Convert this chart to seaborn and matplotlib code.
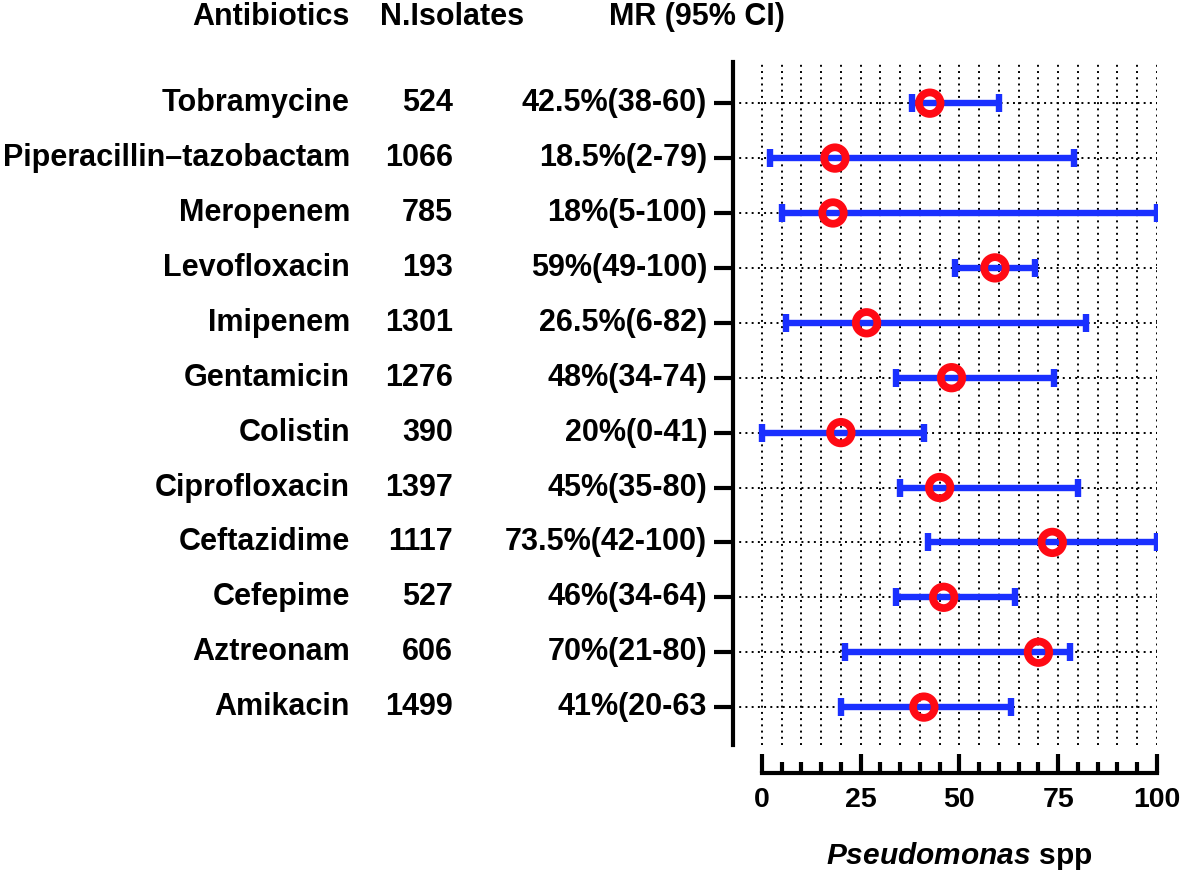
import numpy as np
import matplotlib
matplotlib.use("Agg")
import matplotlib.pyplot as plt
import matplotlib.transforms as mtransforms
import seaborn as sns

# === DATA ===
antibiotics = ["Tobramycine", "Piperacillin\u2013tazobactam", "Meropenem", "Levofloxacin",
               "Imipenem", "Gentamicin", "Colistin", "Ciprofloxacin", "Ceftazidime",
               "Cefepime", "Aztreonam", "Amikacin"]
n_isolates = ["524", "1066", "785", "193", "1301", "1276", "390", "1397", "1117", "527", "606", "1499"]
mr_labels = ["42.5%(38-60)", "18.5%(2-79)", "18%(5-100)", "59%(49-100)", "26.5%(6-82)",
             "48%(34-74)", "20%(0-41)", "45%(35-80)", "73.5%(42-100)", "46%(34-64)",
             "70%(21-80)", "41%(20-63"]
mr = np.array([42.5, 18.5, 18, 59, 26.5, 48, 20, 45, 73.5, 46, 70, 41])
ci_low = np.array([38, 2, 5, 49, 6, 34, 0, 35, 42, 34, 21, 20])
ci_high = np.array([60, 79, 100, 69, 82, 74, 41, 80, 100, 64, 78, 63])
xticks = [0, 25, 50, 75, 100]
xminor = list(range(0, 101, 5))

# === STYLE ===
sns.set_style("white")
plt.rcParams['font.family'] = ['Liberation Sans', 'DejaVu Sans']
plt.rcParams['font.weight'] = 'bold'
plt.rcParams['text.color'] = 'black'
plt.rcParams['xtick.color'] = 'black'
plt.rcParams['ytick.color'] = 'black'
plt.rcParams['axes.labelcolor'] = 'black'
plt.rcParams['axes.edgecolor'] = 'black'
plt.rcParams['mathtext.fontset'] = 'custom'
plt.rcParams['mathtext.it'] = 'Liberation Sans:italic:bold'

W, H = 1181, 872
fig = plt.figure(figsize=(W / 100, H / 100), dpi=100)
ax = fig.add_axes([733 / W, 1 - 745 / H, (1157 - 733) / W, (745 - 62) / H])

ypos = np.arange(len(antibiotics))[::-1]
red = "#ff0a14"
blue = "#1a30ff"

# error bars
ax.errorbar(mr, ypos, xerr=[mr - ci_low, ci_high - mr], fmt="none",
            ecolor=blue, elinewidth=4.6, capsize=6.8, capthick=4.6, zorder=3)
# point estimates
sns.scatterplot(x=mr, y=ypos, ax=ax, s=240, facecolor="none", edgecolor=red,
                linewidth=5.6, zorder=5, legend=False)

ax.set_xlim(-7.3, 100)
ax.set_ylim(-0.69, 11.75)

# ticks and grid
ax.set_xticks(xticks)
ax.set_xticks(xminor, minor=True)
ax.set_yticks(ypos)
ax.set_yticklabels([])
ax.grid(True, which="both", axis="x", color="black", linestyle=(0, (1, 2.2)), linewidth=1.4)
ax.grid(True, which="major", axis="y", color="black", linestyle=(0, (1, 2.2)), linewidth=1.4)
ax.set_axisbelow(True)

# spines
for s in ["top", "right"]:
    ax.spines[s].set_visible(False)
ax.spines["left"].set_linewidth(3)
ax.spines["bottom"].set_linewidth(3)
ax.spines["bottom"].set_position(("outward", 20))
ax.spines["bottom"].set_bounds(0, 100)
ax.tick_params(axis="y", which="major", direction="out", length=14, width=3, left=True)
ax.tick_params(axis="x", which="major", direction="in", length=14, width=3, bottom=True,
               labelsize=20.5, pad=10)
ax.tick_params(axis="x", which="minor", direction="in", length=8, width=3, bottom=True)
for lbl in ax.get_xticklabels():
    lbl.set_fontweight("bold")

ax.set_xlabel(r"$\mathit{Pseudomonas}$ spp", fontsize=21.5, fontweight="bold")
ax.xaxis.set_label_coords(0.534, -0.163)
ax.xaxis.label.set_va("center")

# table text left of the plot
trans = mtransforms.blended_transform_factory(fig.transFigure, ax.transData)
fs = 22
for name, n, lab, y in zip(antibiotics, n_isolates, mr_labels, ypos):
    ax.text(350 / W, y, name, transform=trans, ha="right", va="center", fontsize=fs, fontweight="bold")
    ax.text(453 / W, y, n, transform=trans, ha="right", va="center", fontsize=fs, fontweight="bold")
    ax.text(707 / W, y, lab, transform=trans, ha="right", va="center", fontsize=fs, fontweight="bold")

hy = 1 - 17 / H
fig.text(350 / W, hy, "Antibiotics", ha="right", va="center", fontsize=fs, fontweight="bold")
fig.text(452 / W, hy, "N.Isolates", ha="center", va="center", fontsize=fs, fontweight="bold")
fig.text(785 / W, hy, "MR (95% CI)", ha="right", va="center", fontsize=fs, fontweight="bold")

fig.savefig("out.png", dpi=100)
plt.close()
